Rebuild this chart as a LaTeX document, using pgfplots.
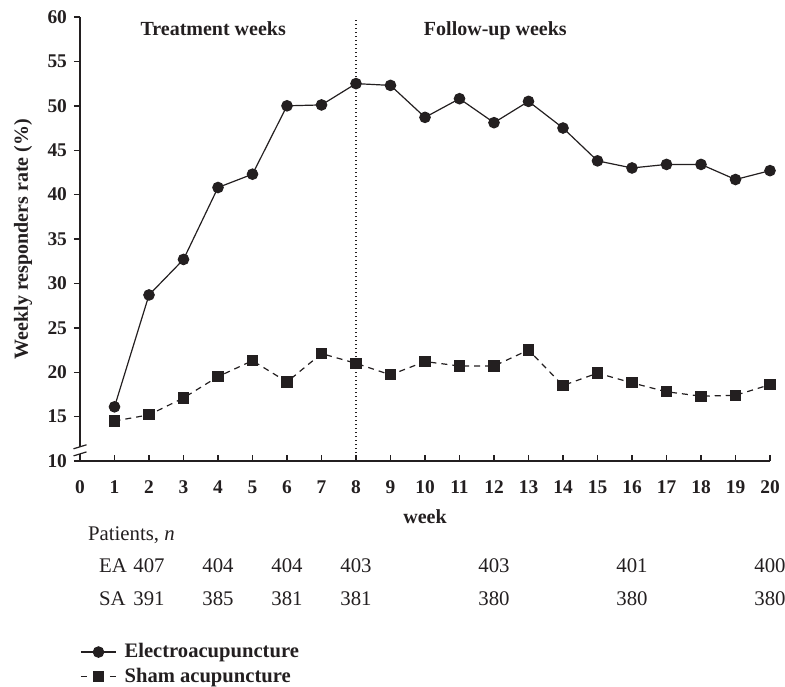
\documentclass[border=0pt]{standalone}
\usepackage{fontspec}
\setmainfont{Liberation Serif}
\usepackage{pgfplots}
\pgfplotsset{compat=1.18}
\definecolor{ink}{HTML}{231F20}
\newcommand{\nrow}[3]{%
  \node[font=\fontsize{10.4}{12}\selectfont, text=ink, yshift=-52.5pt] at (axis cs:#1,10) {#2};
  \node[font=\fontsize{10.4}{12}\selectfont, text=ink, yshift=-69pt] at (axis cs:#1,10) {#3};}
\begin{document}
\begin{tikzpicture}[font=\fontsize{10}{12}\selectfont]
\path[use as bounding box] (-40pt,-112.5pt) rectangle (352.5pt,230.5pt);
\begin{axis}[
  at={(0,0)}, anchor=south west,
  scale only axis, width=345pt, height=222pt,
  xmin=0, xmax=20, ymin=10, ymax=60,
  axis x line=bottom, axis y line=left,
  axis line style={-, ink, line width=0.7pt},
  xtick={0,...,20}, ytick={10,15,...,60},
  tick align=outside,
  major tick length=3pt,
  tick style={ink, line width=0.7pt},
  x tick style={yshift=3pt},
  /pgf/number format/assume math mode=true,
  ticklabel style={font=\fontsize{9.7}{11}\bfseries\selectfont, text=ink},
  xticklabel style={yshift=-3.5pt},
  clip=false,
  legend style={at={(rel axis cs:0,0)}, anchor=north west, yshift=-89pt, draw=none, fill=none,
    inner sep=0pt, font=\fontsize{10.3}{12}\bfseries\selectfont, text=ink, row sep=-0.3pt,
    cells={anchor=west}, /tikz/every odd column/.append style={column sep=2pt}},
]
\addplot[ink, line width=0.6pt, mark=*, mark size=2.6pt, mark options={solid, fill=ink},
  legend image code/.code={
    \draw[solid, ink, line width=0.6pt] (0pt,0pt) -- (17.5pt,0pt);
    \draw[solid, ink, mark=*, mark size=2.6pt, mark options={solid, fill=ink}] plot coordinates {(8.75pt,0pt)};}] coordinates {
(1,16.1) (2,28.7) (3,32.7) (4,40.8) (5,42.3) (6,50.0) (7,50.1) (8,52.5) (9,52.3) (10,48.7)
(11,50.8) (12,48.1) (13,50.5) (14,47.5) (15,43.8) (16,43.0) (17,43.4) (18,43.4) (19,41.7) (20,42.7)};
\addlegendentry{Electroacupuncture}
\addplot[ink, line width=0.6pt, dash pattern=on 3pt off 2.5pt, mark=square*, mark size=2.5pt, mark options={solid, fill=ink},
  legend image code/.code={
    \draw[solid, ink, line width=0.6pt] (0pt,0pt) -- (3pt,0pt) (14.5pt,0pt) -- (17.5pt,0pt);
    \draw[solid, ink, mark=square*, mark size=2.5pt, mark options={solid, fill=ink}] plot coordinates {(8.75pt,0pt)};}] coordinates {
(1,14.5) (2,15.2) (3,17.1) (4,19.5) (5,21.3) (6,18.9) (7,22.1) (8,21.0) (9,19.7) (10,21.2)
(11,20.7) (12,20.7) (13,22.5) (14,18.5) (15,19.9) (16,18.8) (17,17.8) (18,17.3) (19,17.4) (20,18.6)};
\addlegendentry{Sham acupuncture}
\draw[ink, line width=0.6pt, dash pattern=on 0.6pt off 1.4pt] (axis cs:8,10) -- (axis cs:8,59.8);
\node[anchor=base, font=\fontsize{10}{12}\bfseries\selectfont, text=ink] at (axis cs:3.86,57.9) {Treatment weeks};
\node[anchor=base, font=\fontsize{10}{12}\bfseries\selectfont, text=ink] at (axis cs:12.04,57.9) {Follow-up weeks};
\node[rotate=90, font=\fontsize{10}{12}\bfseries\selectfont, text=ink, yshift=28.5pt] at (axis cs:0,35) {Weekly responders rate (\%)};
\node[font=\fontsize{10}{12}\bfseries\selectfont, text=ink, yshift=-28pt] at (axis cs:10,10) {week};
\node[anchor=west, font=\fontsize{10.4}{12}\selectfont, text=ink, xshift=0.5pt, yshift=-37pt] at (axis cs:0,10) {Patients, \textit{n}};
\node[anchor=west, font=\fontsize{10.4}{12}\selectfont, text=ink, xshift=6pt, yshift=-52.5pt] at (axis cs:0,10) {EA};
\node[anchor=west, font=\fontsize{10.4}{12}\selectfont, text=ink, xshift=6pt, yshift=-69pt] at (axis cs:0,10) {SA};
\nrow{2}{407}{391}
\nrow{4}{404}{385}
\nrow{6}{404}{381}
\nrow{8}{403}{381}
\nrow{12}{403}{380}
\nrow{16}{401}{380}
\nrow{20}{400}{380}
\coordinate (bkA) at (axis cs:0,11.6);
\coordinate (bkB) at (axis cs:0,10.8);
\end{axis}
\fill[white] ([xshift=-1pt]bkB) rectangle ([xshift=1pt]bkA);
\draw[ink, line width=0.6pt] ([xshift=-3.25pt,yshift=-1pt]bkA) -- ([xshift=3.25pt,yshift=1pt]bkA);
\draw[ink, line width=0.6pt] ([xshift=-3.25pt,yshift=-1pt]bkB) -- ([xshift=3.25pt,yshift=1pt]bkB);
\end{tikzpicture}
\end{document}
